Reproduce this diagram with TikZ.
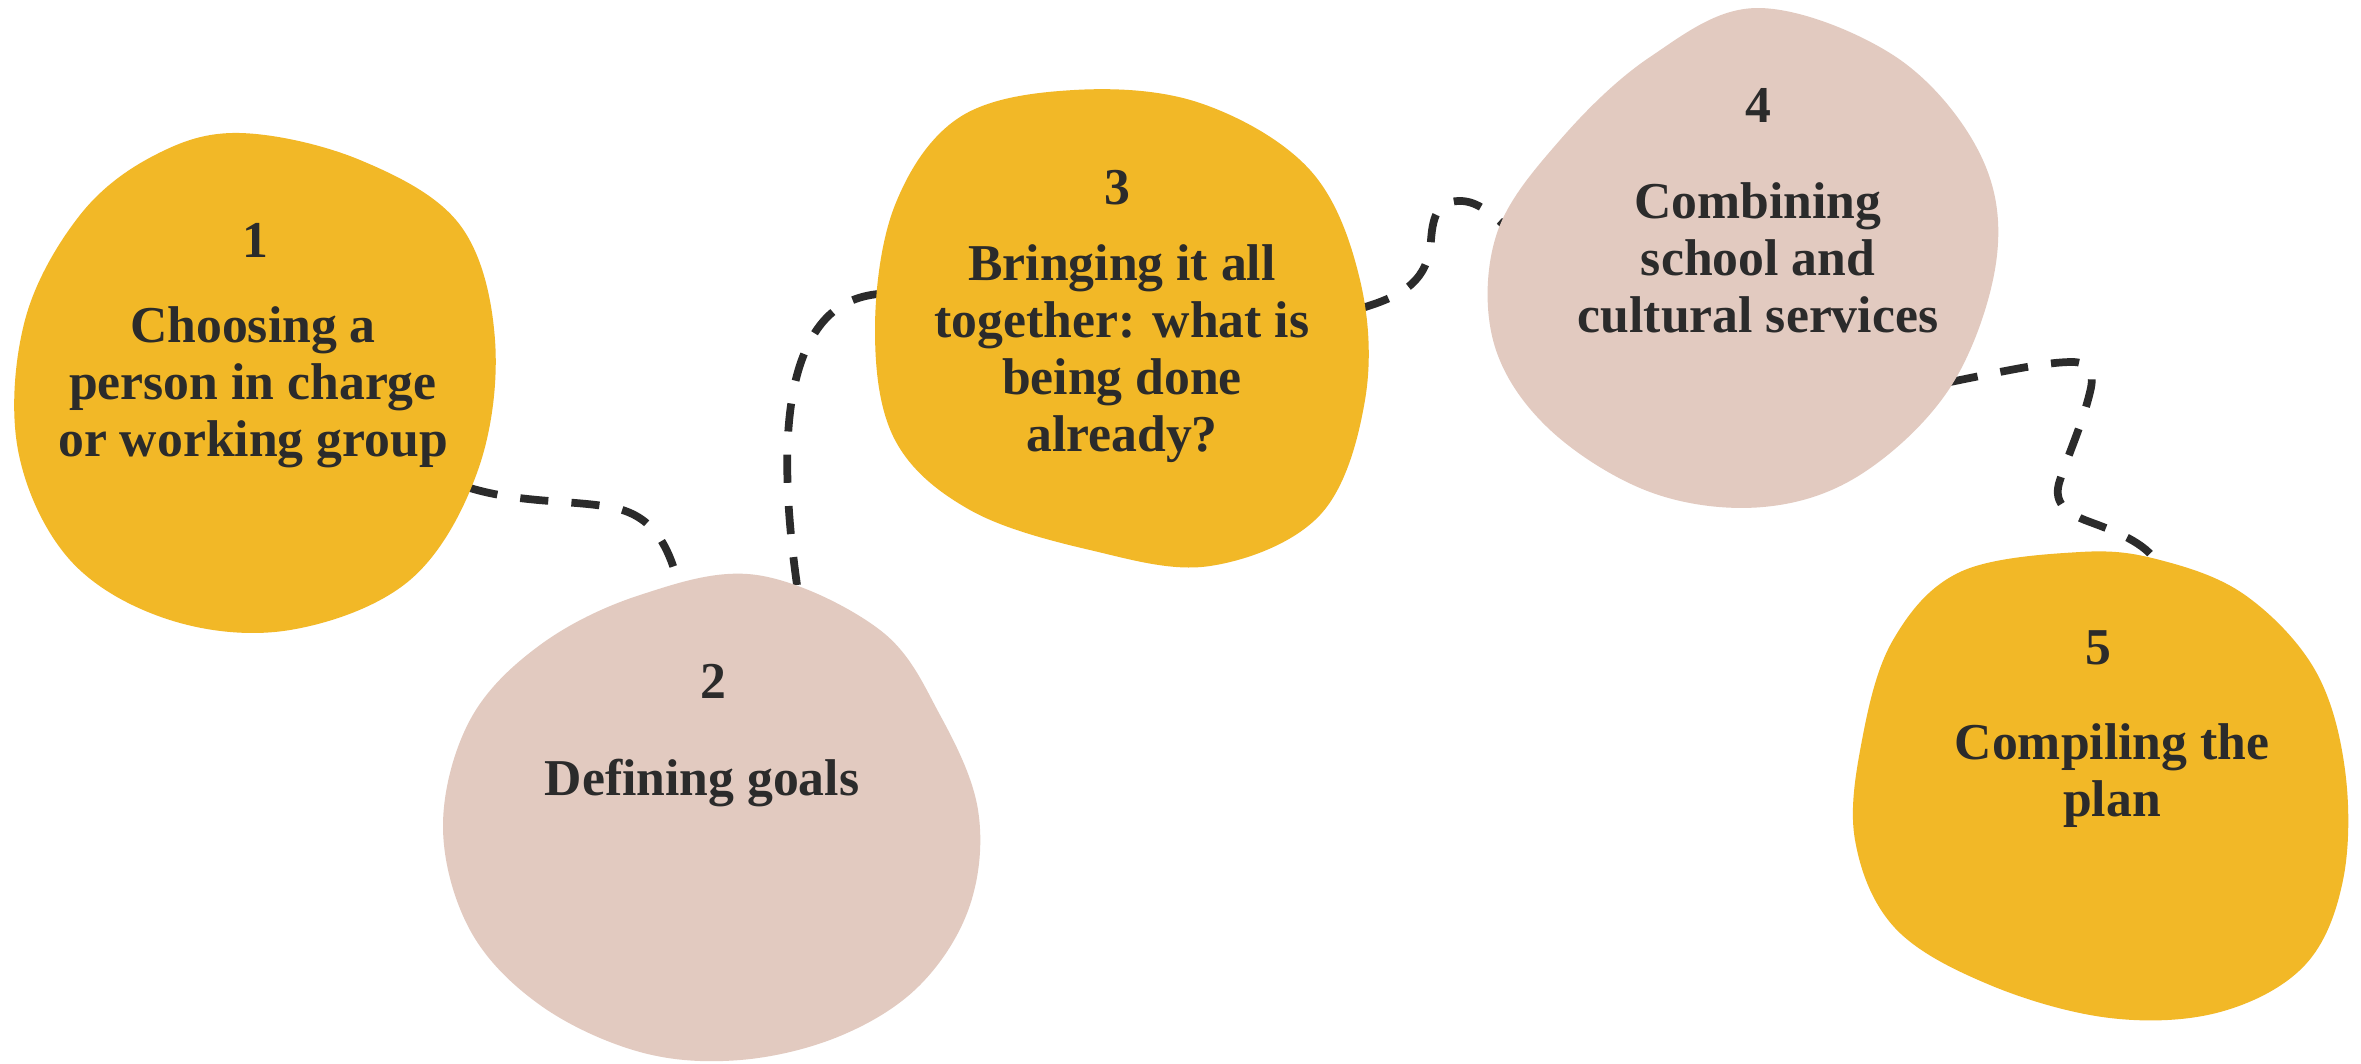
\documentclass[tikz,border=0pt]{standalone}
\usepackage{fontspec}
\setmainfont{Liberation Serif}
\definecolor{blobY}{HTML}{F2B827}
\definecolor{blobP}{HTML}{E2CAC0}
\definecolor{ink}{HTML}{2B2B2B}
\begin{document}
\begin{tikzpicture}[x=0.01cm,y=-0.01cm,
  yblob/.style={fill=blobY, draw=none},
  pblob/.style={fill=blobP, draw=none},
  link/.style={draw=ink, line width=2.2pt, dash pattern=on 8pt off 6.6pt},
  stepnum/.style={text=ink, font=\bfseries\fontsize{14.7}{16.2}\selectfont, inner sep=0pt},
  steptext/.style={text=ink, font=\bfseries\fontsize{14.7}{16.2}\selectfont, align=center, inner sep=0pt}]
\useasboundingbox (0,0) rectangle (2361,1063);
\fill[white] (0,0) rectangle (2361,1063);

% connector end points on the blob edges
\coordinate (b1r) at (470,488);
\coordinate (b2t1) at (680,590);
\coordinate (b2t2) at (797,585);
\coordinate (b3l) at (878,294);
\coordinate (b3r) at (1362,308);
\coordinate (b4l) at (1505,226);
\coordinate (b4r) at (1950,382);
\coordinate (b5t) at (2160,568);

% dashed connectors (under the blobs)
\draw[link] (b1r) .. controls (520,503) and (570,500) .. (610,507)
  .. controls (650,514) and (668,540) .. (b2t1);
\draw[link] (b2t2) .. controls (785,500) and (782,420) .. (800,365)
  .. controls (815,320) and (840,298) .. (b3l);
\draw[link] (b3r) .. controls (1405,295) and (1428,280) .. (1431,240)
  .. controls (1433,212) and (1440,202) .. (1458,201)
  .. controls (1475,200) and (1490,212) .. (b4l);
\draw[link] (b4r) .. controls (2000,372) and (2045,362) .. (2072,362)
  .. controls (2090,362) and (2095,372) .. (2090,392)
  .. controls (2082,425) and (2068,455) .. (2060,480)
  .. controls (2053,500) and (2062,512) .. (2090,522)
  .. controls (2120,533) and (2150,545) .. (b5t);

% blobs
\fill[yblob] plot[smooth cycle, tension=0.6] coordinates {
 (240,133) (360,160) (460,225) (495,340) (478,470) (410,580) (290,630)
 (170,620) (70,560) (18,450) (25,320) (80,215) (155,155)};
\fill[pblob] plot[smooth cycle, tension=0.6] coordinates {
 (757,575) (640,595) (540,645) (470,720) (443,826) (470,930) (540,1005)
 (640,1052) (740,1060) (840,1036) (920,985) (970,905) (978,810) (940,715)
 (880,630)};
\fill[yblob] plot[smooth cycle, tension=0.6] coordinates {
 (960,117) (1074,90) (1200,103) (1310,170) (1360,280) (1365,400) (1320,515)
 (1210,566) (1090,550) (970,510) (895,440) (875,330) (895,205)};
\fill[pblob] plot[smooth cycle, tension=0.6] coordinates {
 (1757,8) (1650,57) (1560,140) (1497,233) (1493,340) (1547,427) (1650,492)
 (1763,507) (1863,473) (1953,383) (1997,255) (1978,150) (1893,55)};
\fill[yblob] plot[smooth cycle, tension=0.6] coordinates {
 (2080,552) (1960,572) (1893,640) (1862,740) (1855,840) (1895,928)
 (1990,985) (2110,1018) (2220,1012) (2305,965) (2343,880) (2345,770)
 (2315,670) (2245,595) (2160,560)};

% texts
\node[stepnum] (n1) at (255,240) {1};
\node[steptext] (t1) at (253,387) {Choosing a\\person in charge\\or working group};
\node[stepnum] (n2) at (713,681) {2};
\node[steptext] (t2) at (702,783) {Defining goals};
\node[stepnum] (n3) at (1117,188) {3};
\node[steptext] (t3) at (1122,354) {Bringing it all\\together: what is\\being done\\already?};
\node[stepnum] (n4) at (1758,105) {4};
\node[steptext] (t4) at (1758,258) {Combining\\school and\\cultural services};
\node[stepnum] (n5) at (2098,648) {5};
\node[steptext] (t5) at (2112,776) {Compiling the\\plan};
\end{tikzpicture}
\end{document}
